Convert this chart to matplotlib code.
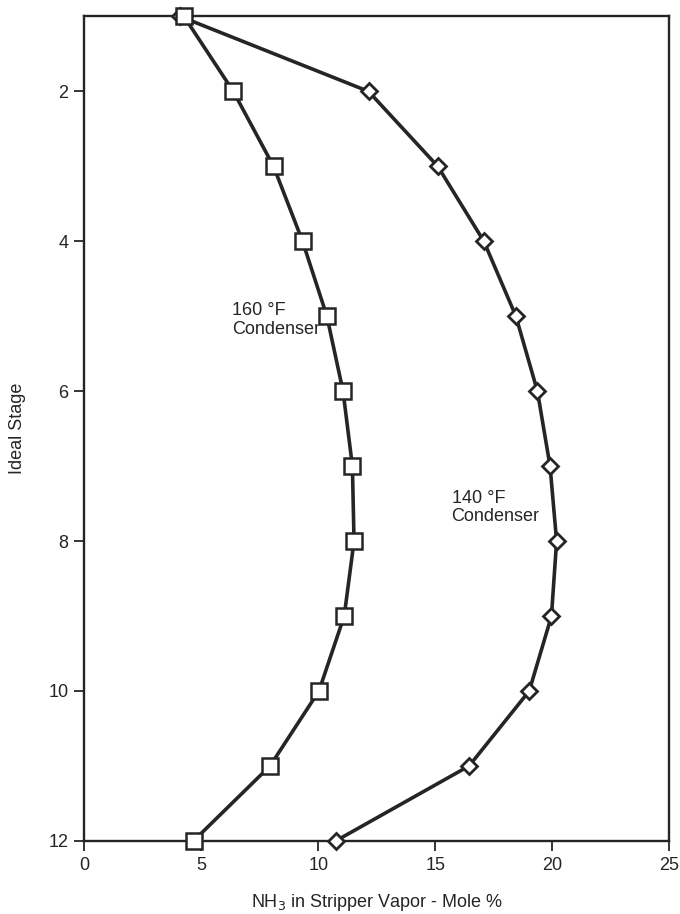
import matplotlib.pyplot as plt

plt.rcParams['font.family'] = ['Liberation Sans', 'DejaVu Sans']

# stage profiles of NH3 in the stripper vapor, mole %
stages = [1, 2, 3, 4, 5, 6, 7, 8, 9, 10, 11, 12]
nh3_160F = [4.26, 6.37, 8.09, 9.33, 10.37, 11.06, 11.46, 11.53, 11.11, 10.03, 7.94, 4.67]
nh3_140F = [4.10, 12.15, 15.11, 17.08, 18.45, 19.37, 19.91, 20.19, 19.97, 19.02, 16.45, 10.75]

x_ticks = [0, 5, 10, 15, 20, 25]
y_ticks = [2, 4, 6, 8, 10, 12]

ink = '#252525'
fs = 13

fig = plt.figure(figsize=(6.8, 9.14), dpi=100)
ax = fig.add_axes([0.124, 0.080, 0.860, 0.902])

ax.plot(nh3_140F, stages, color=ink, lw=2.6, marker='D', ms=8,
        mfc='white', mec=ink, mew=2.0, clip_on=False, zorder=3)
ax.plot(nh3_160F, stages, color=ink, lw=2.6, marker='s', ms=12,
        mfc='white', mec=ink, mew=1.8, clip_on=False, zorder=4)

ax.text(6.3, 5.05, '160 °F\nCondenser', fontsize=fs, color=ink,
        ha='left', va='center', linespacing=1.1)
ax.text(15.7, 7.55, '140 °F\nCondenser', fontsize=fs, color=ink,
        ha='left', va='center', linespacing=1.1)

ax.set_xlim(0, 25)
ax.set_ylim(12, 1)
ax.set_xticks(x_ticks)
ax.set_yticks(y_ticks)
ax.tick_params(direction='out', length=7.5, width=1.3, colors=ink,
               labelsize=fs, pad=4)

for side in ax.spines.values():
    side.set_linewidth(1.7)
    side.set_color(ink)

ax.set_xlabel('NH$_3$ in Stripper Vapor - Mole %', fontsize=fs, color=ink, labelpad=13)
ax.set_ylabel('Ideal Stage', fontsize=fs, color=ink, labelpad=16)

fig.savefig('out.png', dpi=100)
